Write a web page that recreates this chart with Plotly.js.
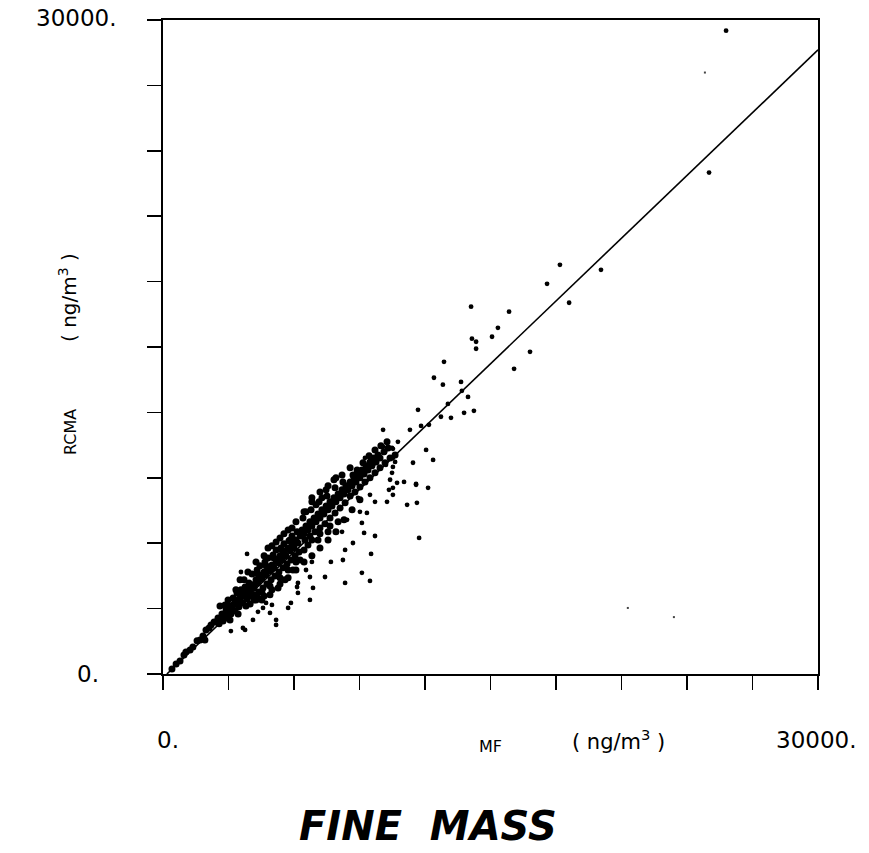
<!DOCTYPE html>
<html>
<head>
<meta charset="utf-8">
<script src="https://cdn.plot.ly/plotly-3.0.1.min.js"></script>
<style>html,body{margin:0;padding:0;background:#fff;}#chart{width:869px;height:853px;}</style>
</head>
<body>
<div id="chart"></div>
<script>
// MF (x) vs RCMA (y), ng/m^3
const tailX = [410,600,780,960,1050,1240,1370,1560,1700,1830,1970,2110,2200,2340,1920];
const tailY = [230,460,600,870,1010,1100,1240,1520,1560,1740,2020,2110,2250,2390,1560];

const bandAX = [2430,2520,2610,2700,2790,2890,2980,3070,3160,3250,3340,3440,3530,3620,3710,3800,3890,3990,2570,2750,2930,3110,3300,3480,3660,3850,4030,2840,3210,3570,3940,3390,3760];
const bandAY = [2390,2570,2480,2750,2660,2940,2850,3120,3030,3210,3400,3310,3490,3580,3760,3670,3950,3860,2300,2430,2570,2750,2890,3080,3260,3440,3580,3170,3490,3860,4180,3720,3990];

const bandBX = [4080,4170,4260,4350,4440,4530,4630,4720,4810,4900,4990,5080,5180,5270,5360,5450,5540,5630,5730,5820,5910,6000,6090,6180,6280,
  4210,4400,4580,4760,4950,5130,5310,5500,5680,5860,6050,6230,
  4310,4670,5040,5400,5770,6140,
  4530,4900,5270,5590,5950,
  4810,5180,5540,5910];
const bandBY = [4090,3950,4320,4180,4500,4360,4680,4540,4870,4730,5000,4870,5230,5100,5420,5230,5600,5420,5780,5650,5920,5780,6150,6010,6330,
  3630,3760,3950,4130,4320,4500,4680,4870,5050,5230,5420,5600,
  4770,5140,5460,5780,6110,6520,
  3400,3630,3950,4320,4770,
  5320,5690,5970,6330];

const bandCX = [6370,6460,6550,6640,6730,6820,6920,7010,7100,7190,7280,7370,7470,7560,7650,7740,7830,7920,8020,8110,8200,8290,
  6500,6730,6960,7190,7420,7650,7880,8110,8340,
  6410,6780,7150,7510,7880,8240,
  6640,7100,7560,8020,
  6820,7280];
const bandCY = [6610,6430,6790,6610,6980,6790,7160,6980,7340,7160,7530,7340,7710,7530,7900,7710,8080,7900,8260,8080,8450,8260,
  6150,6330,6520,6700,6890,7160,7390,7620,7850,
  7160,7530,7900,8170,8540,8810,
  5920,6150,6520,6980,
  7900,8080];

const bandDX = [8380,8470,8570,8660,8750,8840,8930,9020,9110,9210,9300,9390,9480,9570,9660,9760,9850,9940,10120,10310,
  8570,8790,9020,9250,9480,9710,9940,10170,10400,10630,
  8890,9160,9440,9710,9980,10260,8700];
const bandDY = [8630,8450,8810,8630,9000,8810,9180,9000,9360,9180,9550,9360,9730,9550,9910,9730,10050,9910,10190,10370,
  8170,8350,8580,8810,9000,9230,9460,9690,9910,10050,
  9360,9690,10010,10280,10470,10650,9130];

const bandFillX = [2610,2980,3340,3710,4080,4440,4810,5180,5540,5910,3070,3440,3800,4170,4530,4900,5360,5730,6090,6460,6820,7190,7650,6550,7010,7470,7830,8200,8570,6280,3990,4350];
const bandFillY = [3120,3400,3860,4320,4590,4960,5780,6060,6430,6700,2480,2750,3120,3400,3760,4040,4410,4770,5140,5690,6150,6430,6790,7440,7760,8450,8910,9130,9460,5230,3210,3490];

const bandUpperX = [3530,3890,4260,4630,4990,5360,5730,6090,6460,6820,7190,7560,7920,4350,4720,5080,5450,5820];
const bandUpperY = [4320,4680,5140,5420,5880,6240,6610,6980,7440,8080,8350,8630,9000,4590,4960,5320,5690,6150];

const bandLowerX = [4260,4630,4990,5360,5730,6090,6460,6820,7190,7560,7920,8290,8660,9020];
const bandLowerY = [3400,3580,3860,4130,4410,4770,5140,5420,5780,6150,6520,7070,7530,7990];

const scatterX = [3850,3570,3110,3660,4120,4350,4580,4900,5180,5180,5730,6180,6180,5860,4720,4990,3760,6730,
  10490,11040,11590,12140,10400,10720,10350,10530,11180,11630,10260,9710,9480,8930,9020,9340,9110,9210,9710,11730,8430,8200,8700,8340,8240,9530,7690,9110,9480,8340,7420,6730,6870,6140,6550,6820,
  9250,9620,9800,10080,10170,10490,10760,10630,11450,12050,12370,
  10530,10120,10530,10210,10530,10530,11590];
const scatterY = [5510,4680,1970,2110,2480,2850,3030,2800,2480,2250,3030,4180,3720,3260,3260,3170,2020,3400,
  9230,8810,8720,8540,8910,8770,8450,8220,7760,7850,7900,7900,8220,8080,7440,7390,6930,6470,6330,6240,7070,6520,6010,5690,5230,5510,5140,4640,4270,4180,4450,4450,3950,3990,4770,5140,
  9910,9590,9910,10420,10190,10370,10650,9730,9690,10280,9820,
  10330,10140,9910,9590,9500,8540,8680];

const upperX = [12180,13050,13690,10080,11310,11820,11680,12730,13190,13790,14240,12870,12410,12820,13650,13970,16080,14110,15340,15070,14150,14340,14340,15850,16810,17590,18180,20060,18600,25010,25790];
const upperY = [11430,12390,12990,11200,11200,11380,12120,11800,11750,11980,12070,14320,13590,13270,13400,12710,14000,16850,15880,15470,15380,15240,14920,16620,14780,17900,18770,18540,17030,23000,29510];

// faint specks
const speckX = [24820, 21290, 23400];
const speckY = [27590, 3030, 2610];

// regression line RCMA = fitSlope * MF + fitIntercept
const fitSlope = 0.96;
const fitIntercept = -170;
const axisMax = 30000;
const tickStep = 3000;

const bandX = [].concat(tailX, bandAX, bandBX, bandCX, bandDX, bandFillX, bandUpperX, bandLowerX);
const bandY = [].concat(tailY, bandAY, bandBY, bandCY, bandDY, bandFillY, bandUpperY, bandLowerY);
const looseX = [].concat(scatterX, upperX);
const looseY = [].concat(scatterY, upperY);

const lineX0 = -fitIntercept / fitSlope;
const lineX = [lineX0, axisMax];
const lineY = lineX.map(v => fitSlope * v + fitIntercept);

const ticks = [];
for (let v = 0; v <= axisMax; v += tickStep) ticks.push(v);

const traces = [
  {x: bandX, y: bandY, type: 'scatter', mode: 'markers',
   marker: {color: 'black', size: 7, symbol: 'circle'}, hoverinfo: 'skip'},
  {x: looseX, y: looseY, type: 'scatter', mode: 'markers',
   marker: {color: 'black', size: 4.8, symbol: 'circle'}, hoverinfo: 'skip'},
  {x: speckX, y: speckY, type: 'scatter', mode: 'markers',
   marker: {color: '#444', size: 2, symbol: 'square'}, hoverinfo: 'skip'},
  {x: lineX, y: lineY, type: 'scatter', mode: 'lines',
   line: {color: 'black', width: 1.6}, hoverinfo: 'skip'}
];

const fontMain = 'DejaVu Sans, sans-serif';
const axisCommon = {
  range: [0, axisMax], tickvals: ticks, showticklabels: false,
  ticks: 'outside', ticklen: 14, tickwidth: 1.5, tickcolor: 'black',
  showline: true, linecolor: 'black', linewidth: 2, mirror: true,
  showgrid: false, zeroline: false, fixedrange: true
};

const layout = {
  width: 869, height: 853,
  margin: {l: 163, r: 51, t: 20, b: 179, pad: 0},
  paper_bgcolor: 'white', plot_bgcolor: 'white',
  showlegend: false,
  font: {family: fontMain, color: 'black'},
  xaxis: Object.assign({}, axisCommon),
  yaxis: Object.assign({}, axisCommon),
  annotations: [
    {text: '30000.', xref: 'paper', yref: 'paper', x: -0.068, y: 1.003, xanchor: 'right', yanchor: 'middle', showarrow: false, font: {size: 23, family: fontMain}},
    {text: '0.', xref: 'paper', yref: 'paper', x: -0.095, y: 0, xanchor: 'right', yanchor: 'middle', showarrow: false, font: {size: 23, family: fontMain}},
    {text: '0.', xref: 'paper', yref: 'paper', x: 0.008, y: -0.101, xanchor: 'center', yanchor: 'middle', showarrow: false, font: {size: 23, family: fontMain}},
    {text: '30000.', xref: 'paper', yref: 'paper', x: 0.997, y: -0.101, xanchor: 'center', yanchor: 'middle', showarrow: false, font: {size: 23, family: fontMain}},
    {text: 'MF', xref: 'paper', yref: 'paper', x: 0.5, y: -0.111, xanchor: 'center', yanchor: 'middle', showarrow: false, font: {size: 16, family: fontMain}},
    {text: '( ng/m<sup>3</sup> )', xref: 'paper', yref: 'paper', x: 0.696, y: -0.101, xanchor: 'center', yanchor: 'middle', showarrow: false, font: {size: 21, family: fontMain}},
    {text: 'RCMA', xref: 'paper', yref: 'paper', x: -0.142, y: 0.37, xanchor: 'center', yanchor: 'middle', textangle: -90, showarrow: false, font: {size: 16, family: fontMain}},
    {text: '( ng/m<sup>3</sup> )', xref: 'paper', yref: 'paper', x: -0.145, y: 0.575, xanchor: 'center', yanchor: 'middle', textangle: -90, showarrow: false, font: {size: 20, family: fontMain}},
    {text: '<b><i>FINE  MASS</i></b>', xref: 'paper', yref: 'paper', x: 0.404, y: -0.232, xanchor: 'center', yanchor: 'middle', showarrow: false, font: {size: 40, family: 'DejaVu Sans, sans-serif'}}
  ]
};

Plotly.newPlot('chart', traces, layout, {staticPlot: true, displayModeBar: false});
</script>
</body>
</html>
